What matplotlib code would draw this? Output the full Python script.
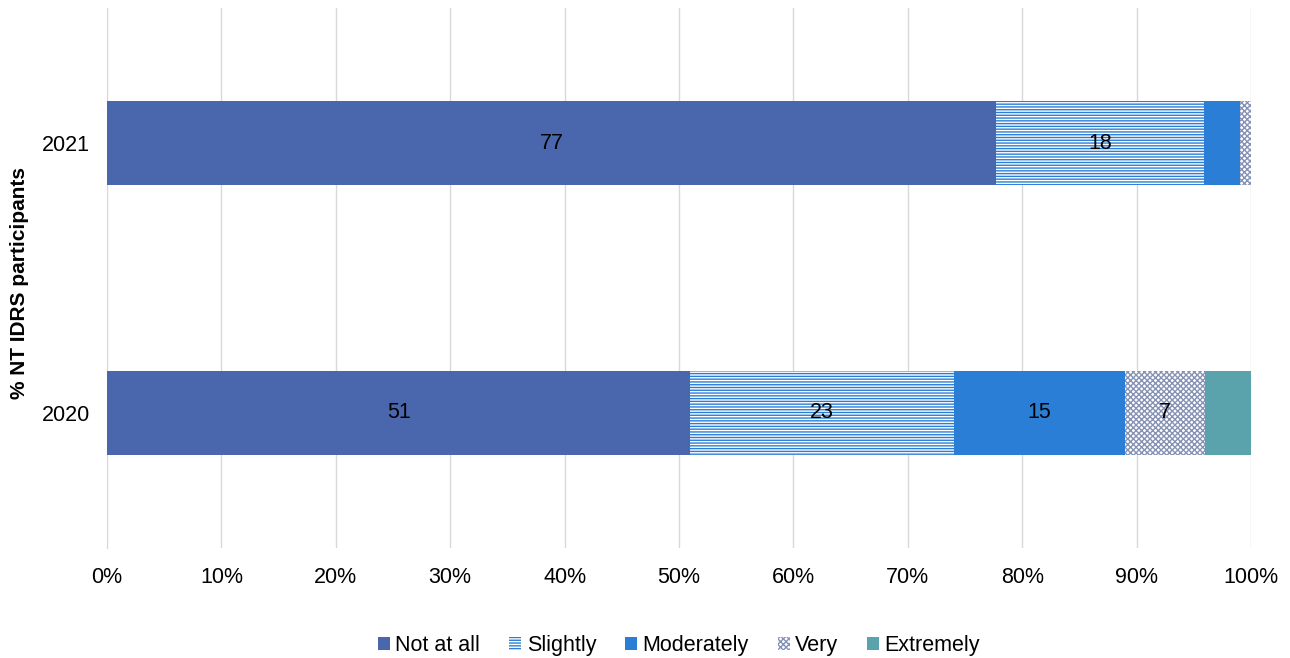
import matplotlib
matplotlib.use("Agg")
import matplotlib.pyplot as plt

plt.rcParams["font.family"] = ["Liberation Sans", "DejaVu Sans"]
plt.rcParams["hatch.linewidth"] = 1.0

years = ["2020", "2021"]
categories = ["Not at all", "Slightly", "Moderately", "Very", "Extremely"]
values = {
    "Not at all": [51, 77.7],
    "Slightly": [23, 18.2],
    "Moderately": [15, 3.1],
    "Very": [7, 1.0],
    "Extremely": [4, 0],
}
shown = {"Not at all": True, "Slightly": True, "Moderately": True, "Very": True, "Extremely": False}

face = {"Not at all": "#4A67AE", "Slightly": "white", "Moderately": "#2B7ED6",
        "Very": "white", "Extremely": "#5BA3AC"}
hatch = {"Not at all": None, "Slightly": "------", "Moderately": None,
         "Very": "xxxxxx", "Extremely": None}
hcol = {"Not at all": "#4A67AE", "Slightly": "#2B7ED6", "Moderately": "#2B7ED6",
        "Very": "#8592B4", "Extremely": "#5BA3AC"}

fig = plt.figure(figsize=(12.9, 6.58), dpi=100)
ax = fig.add_axes([107 / 1290, 110 / 658, 1144 / 1290, 540 / 658])

y = list(range(len(years)))
left = [0.0] * len(years)
for cat in categories:
    vals = values[cat]
    ax.barh(y, vals, left=left, height=0.31, color=face[cat],
            edgecolor=hcol[cat], hatch=hatch[cat], linewidth=0,
            label=cat, zorder=3)
    if shown[cat]:
        for yi, v, l in zip(y, vals, left):
            if v >= 5:
                ax.text(l + v / 2, yi, f"{int(v)}", ha="center", va="center",
                        fontsize=15.5, color="black", zorder=4)
    left = [a + b for a, b in zip(left, vals)]

ax.set_xlim(0, 100)
ax.set_ylim(-0.5, 1.5)
ax.set_xticks(range(0, 101, 10))
ax.set_xticklabels([f"{t}%" for t in range(0, 101, 10)], fontsize=15.5)
ax.set_yticks(y)
ax.set_yticklabels(years, fontsize=15.5)
ax.tick_params(axis="x", length=0, pad=14)
ax.tick_params(axis="y", length=0, pad=12)
ax.grid(axis="x", color="#D9D9D9", linewidth=1, zorder=0)
for s in ["top", "right", "bottom"]:
    ax.spines[s].set_visible(False)
ax.spines["left"].set_color("#D9D9D9")
fig.text(20 / 1290, 1 - 283 / 658, "% NT IDRS participants", rotation=90,
         ha="center", va="center", fontsize=15, fontweight="bold")

ax.legend(loc="upper center", bbox_to_anchor=(0.5, -0.125), ncol=5, frameon=False,
          fontsize=15.5, handlelength=0.55, handleheight=0.55, handletextpad=0.25,
          columnspacing=1.35)

fig.savefig("out.png", dpi=100, facecolor="white")
